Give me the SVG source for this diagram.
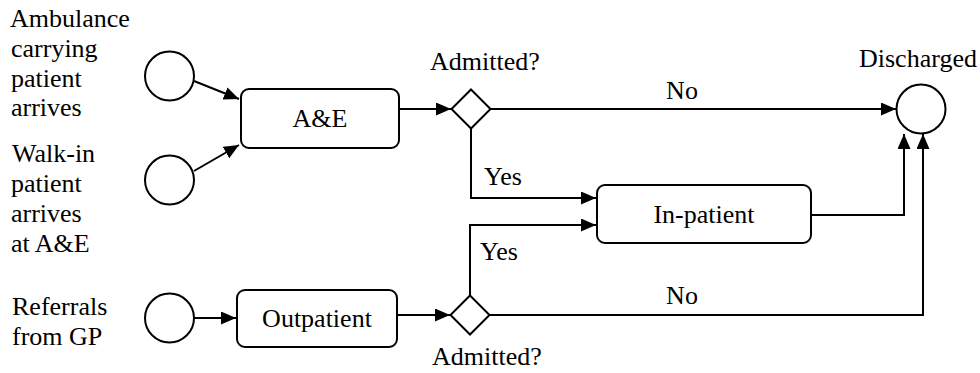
<svg xmlns="http://www.w3.org/2000/svg" width="980" height="373" viewBox="0 0 980 373">
<style>
text{font-family:'Liberation Serif','Times New Roman',serif;font-size:26px;fill:#000}
.c{text-anchor:middle}
.node{fill:#fff;stroke:#000;stroke-width:2}
.ln{fill:none;stroke:#000;stroke-width:2;marker-end:url(#ah)}
</style>
<defs>
<marker id="ah" markerUnits="userSpaceOnUse" markerWidth="16" markerHeight="14" refX="15" refY="6.5" orient="auto">
<path d="M0,0 L15,6.5 L0,13 z" fill="#000"/>
</marker>
</defs>
<g id="connectors">
<line class="ln" x1="194" y1="81" x2="239" y2="99"/>
<line class="ln" x1="194" y1="171" x2="239" y2="145"/>
<line class="ln" x1="194" y1="318" x2="236" y2="318"/>
<line class="ln" x1="399" y1="109" x2="451" y2="109"/>
<line class="ln" x1="397" y1="315" x2="450" y2="315"/>
<line class="ln" x1="490.5" y1="109" x2="896" y2="109"/>
<polyline class="ln" points="471,128.5 471,198 596,198"/>
<polyline class="ln" points="470,295.5 470,225 596,225"/>
<polyline class="ln" points="811,215 904,215 904,134"/>
<polyline class="ln" points="489.5,315 923,315 923,134"/>
<text class="c" x="682" y="99">No</text>
<text x="484" y="185">Yes</text>
<text x="480" y="260">Yes</text>
<text class="c" x="682" y="304">No</text>
</g>
<g id="start-ambulance">
<circle class="node" cx="169.5" cy="76" r="24.5"/>
<text x="10" y="27">Ambulance</text>
<text x="11" y="57">carrying</text>
<text x="11" y="87">patient</text>
<text x="11" y="116">arrives</text>
</g>
<g id="start-walkin">
<circle class="node" cx="169.5" cy="180" r="24.5"/>
<text x="12" y="162">Walk-in</text>
<text x="11" y="192">patient</text>
<text x="11" y="222">arrives</text>
<text x="11" y="252">at A&amp;E</text>
</g>
<g id="start-referrals">
<circle class="node" cx="169.5" cy="318" r="24.5"/>
<text x="12" y="315">Referrals</text>
<text x="12" y="345">from GP</text>
</g>
<g id="ae">
<rect class="node" x="241" y="89" width="158" height="59" rx="8"/>
<text class="c" x="320" y="127">A&amp;E</text>
</g>
<g id="outpatient">
<rect class="node" x="237" y="290" width="160" height="57" rx="8"/>
<text class="c" x="317" y="327">Outpatient</text>
</g>
<g id="admitted-1">
<polygon class="node" points="471,89.5 490.5,109 471,128.5 451.5,109"/>
<text x="430" y="70">Admitted?</text>
</g>
<g id="admitted-2">
<polygon class="node" points="470,295.5 489.5,315 470,334.5 450.5,315"/>
<text x="432" y="365">Admitted?</text>
</g>
<g id="inpatient">
<rect class="node" x="597" y="185" width="214" height="58" rx="8"/>
<text class="c" x="704" y="223">In-patient</text>
</g>
<g id="discharged">
<circle class="node" cx="921" cy="109" r="24.5"/>
<text x="859" y="67">Discharged</text>
</g>
</svg>
